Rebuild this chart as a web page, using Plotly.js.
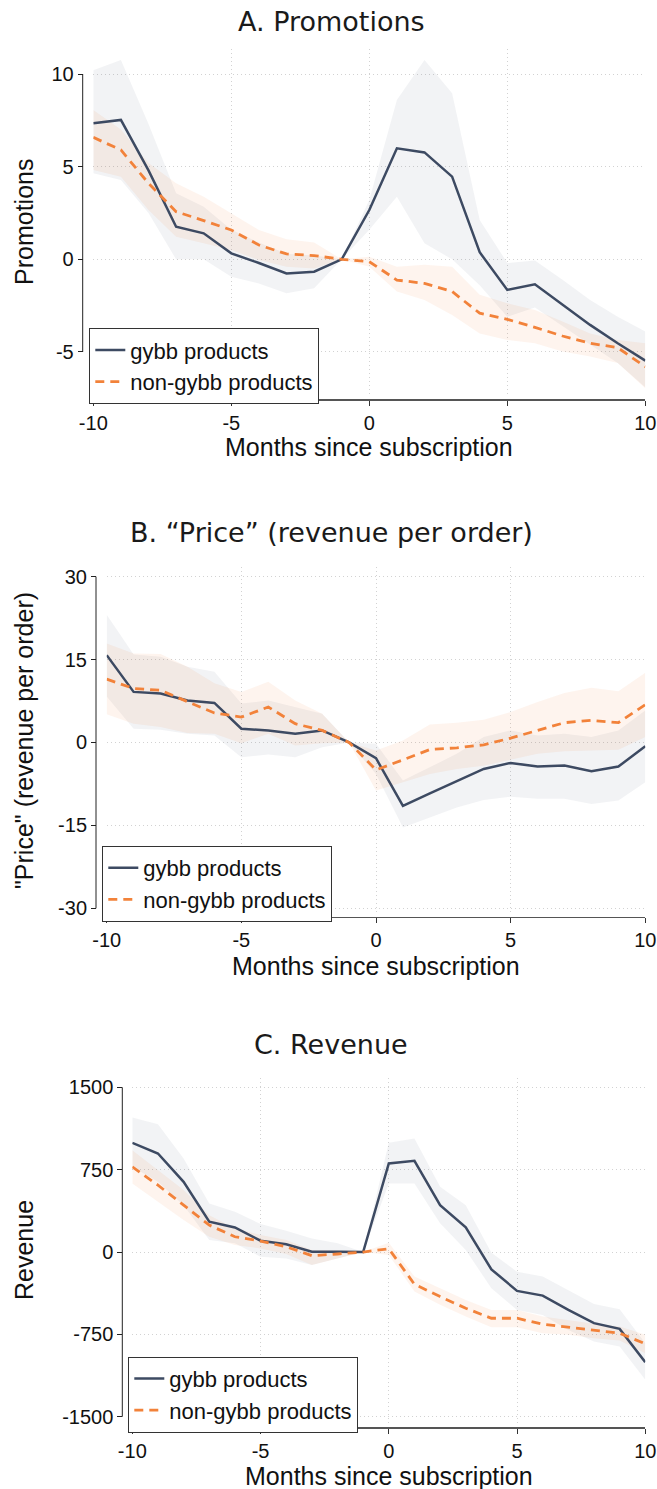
<!DOCTYPE html>
<html>
<head>
<meta charset="utf-8">
<script src="https://cdn.plot.ly/plotly-3.0.1.min.js"></script>
<style>html,body{margin:0;padding:0;background:#fff;}#chart{width:657px;height:1489px;}</style>
</head>
<body>
<div id="chart"></div>
<script>
// ---------- DATA ----------
const months = [-10, -9, -8, -7, -6, -5, -4, -3, -2, -1, 0, 1, 2, 3, 4, 5, 6, 7, 8, 9, 10];
const xTickVals = [-10, -5, 0, 5, 10];
const xTickText = ["-10", "-5", "0", "5", "10"];

const seriesNames = ["gybb products", "non-gybb products"];
const panelTitles = ["A. Promotions", "B. \u201cPrice\u201d (revenue per order)", "C. Revenue"];
const yTitles = ["Promotions", "\"Price\" (revenue per order)", "Revenue"];
const xTitle = "Months since subscription";

// Panel A: Promotions
const promoTickVals = [-5, 0, 5, 10];
const promoTickText = ["-5", "0", "5", "10"];
const promoGybb   = [7.34, 7.52, 4.8, 1.76, 1.40, 0.32, -0.2, -0.76, -0.67, 0, 2.66, 5.99, 5.77, 4.46, 0.38, -1.65, -1.35, -2.46, -3.54, -4.53, -5.47];
const promoGybbHi = [10.2, 10.75, 7.3, 3.56, 2.84, 1.6, 0.9, 0.3, 0.2, 0, 3.2, 8.6, 10.75, 8.96, 2.12, -0.2, -0.07, -1.1, -2.2, -3.1, -3.9];
const promoGybbLo = [4.64, 4.28, 2.5, 0.0, 0.0, -0.94, -1.3, -1.83, -1.56, 0, 1.6, 3.38, 0.86, 0.0, -1.4, -3.1, -2.6, -3.6, -4.6, -5.6, -6.9];
const promoNon    = [6.58, 5.9, 4.1, 2.57, 2.09, 1.58, 0.77, 0.29, 0.2, 0, -0.13, -1.12, -1.3, -1.74, -2.91, -3.24, -3.67, -4.14, -4.53, -4.77, -5.8];
const promoNonHi  = [8.06, 7.0, 5.2, 4.1, 3.38, 2.48, 1.58, 1.08, 0.9, 0, 0.14, -0.4, -0.3, -0.4, -1.92, -2.37, -2.73, -3.36, -4.0, -4.35, -4.53];
const promoNonLo  = [4.82, 4.46, 2.66, 1.22, 0.86, 0.5, -0.04, -0.4, -0.49, 0, -0.4, -1.74, -2.19, -3.0, -4.0, -4.35, -4.53, -4.98, -5.25, -5.6, -6.96];

// Panel B: "Price"
const priceTickVals = [-30, -15, 0, 15, 30];
const priceTickText = ["-30", "-15", "0", "15", "30"];
const priceGybb   = [15.8, 9.15, 8.85, 7.6, 7.15, 2.48, 2.18, 1.58, 2.18, 0, -2.85, -11.45, -9.2, -7.0, -4.79, -3.7, -4.36, -4.18, -5.2, -4.36, -0.67];
const priceGybbHi = [23.1, 15.9, 15.5, 13.7, 12.8, 7.03, 7.6, 6.42, 5.2, 0, -0.24, -6.9, -4.5, -2.06, 0.97, 2.18, 1.27, 1.58, 0.97, 2.18, 5.8];
const priceGybbLo = [8.3, 2.48, 2.3, 1.58, 1.27, -2.67, -2.18, -2.67, -0.85, 0, -5.7, -15.4, -13.6, -11.76, -10.4, -9.8, -10.2, -10.2, -11.15, -10.5, -7.2];
const priceNon    = [11.45, 9.76, 9.45, 7.33, 5.33, 4.6, 6.42, 3.39, 2.18, 0, -4.97, -3.15, -1.27, -0.97, -0.42, 0.79, 2.18, 3.58, 4.0, 3.58, 6.85];
const priceNonHi  = [17.9, 16.1, 16.0, 13.7, 10.7, 9.15, 10.97, 7.6, 5.2, 0, -1.45, 0.36, 3.27, 3.58, 4.12, 5.5, 7.33, 8.97, 9.88, 9.27, 12.6];
const priceNonLo  = [5.1, 3.39, 2.79, 1.7, 1.58, -0.12, 1.58, -0.55, -0.12, 0, -8.7, -7.2, -5.7, -4.8, -4.2, -3.15, -2.06, -1.58, -1.45, -1.33, 0.97];

// Panel C: Revenue
const revTickVals = [-1500, -750, 0, 750, 1500];
const revTickText = ["-1500", "-750", "0", "750", "1500"];
const revGybb   = [994, 897, 639, 276, 224, 103, 70, 3, 3, 0, 806, 830, 427, 224, -158, -354, -397, -527, -648, -700, -1003];
const revGybbHi = [1224, 1164, 852, 442, 367, 255, 194, 124, 79, 0, 994, 1033, 594, 427, -6, -179, -224, -345, -473, -521, -830];
const revGybbLo = [776, 639, 427, 109, 79, -42, -58, -118, -58, 0, 624, 624, 261, 18, -330, -527, -573, -709, -815, -860, -1163];
const revNon    = [776, 609, 427, 245, 139, 100, 48, -33, -18, 0, 30, -294, -406, -512, -603, -603, -658, -685, -718, -739, -836];
const revNonHi  = [927, 745, 564, 336, 215, 155, 109, 18, 18, 0, 85, -224, -330, -436, -527, -527, -588, -624, -654, -679, -754];
const revNonLo  = [624, 458, 291, 139, 64, 33, -18, -118, -58, 0, -27, -360, -481, -588, -685, -685, -739, -754, -785, -806, -921];

// ---------- LAYOUT / STYLE ----------
const W = 657, H = 1489;
const px = v => v / W;
const py = v => 1 - v / H;

const C_GYBB = "#3d4a62";
const C_NON = "#f2823a";
const BAND_GYBB = "rgba(61,74,98,0.065)";
const BAND_NON = "rgba(242,130,58,0.085)";
const GRID = {showgrid: true, gridcolor: "#d2d2d2", griddash: "1px,3px", gridwidth: 1};
const TICKFONT = {family: "Liberation Sans, Arial, sans-serif", size: 20, color: "#111"};
const TITLEFONT = {family: "Liberation Sans, Arial, sans-serif", size: 25, color: "#111"};
const HEADFONT = {family: "DejaVu Sans, sans-serif", size: 27, color: "#1a1a1a"};

const panels = [
  {sfx: "", data: [promoGybb, promoGybbHi, promoGybbLo, promoNon, promoNonHi, promoNonLo],
   tv: promoTickVals, tt: promoTickText,
   xd: [93.3, 645.3], yd: [49, 394], yr: [-7.27, 11.35], yAxisX: 82.7, xAxisY: 399,
   head: 22, xtitleY: 447, ytitleY: 222, leg: [89.3, 328.3]},
  {sfx: "2", data: [priceGybb, priceGybbHi, priceGybbLo, priceNon, priceNonHi, priceNonLo],
   tv: priceTickVals, tt: priceTickText,
   xd: [106.7, 645.3], yd: [566.7, 912], yr: [-30.67, 31.8], yAxisX: 96, xAxisY: 916.7,
   head: 532, xtitleY: 966, ytitleY: 741, leg: [102.3, 846]},
  {sfx: "3", data: [revGybb, revGybbHi, revGybbLo, revNon, revNonHi, revNonLo],
   tv: revTickVals, tt: revTickText,
   xd: [132.3, 645.3], yd: [1078.3, 1423], yr: [-1557, 1582], yAxisX: 122.3, xAxisY: 1427.3,
   head: 1044, xtitleY: 1476, ytitleY: 1250, leg: [128.3, 1356.7]}
];

const traces = [];
const layout = {
  width: W, height: H,
  margin: {l: 0, r: 0, t: 0, b: 0},
  paper_bgcolor: "#fff", plot_bgcolor: "#fff",
  showlegend: true,
  shapes: [], annotations: []
};

function band(xs, hi, lo, color, sfx) {
  return {x: xs.concat(xs.slice().reverse()), y: hi.concat(lo.slice().reverse()),
    xaxis: "x" + sfx, yaxis: "y" + sfx, type: "scatter", mode: "lines",
    fill: "toself", fillcolor: color, line: {width: 0, color: color},
    hoverinfo: "skip", showlegend: false};
}

panels.forEach((p, i) => {
  const [g, gh, gl, n, nh, nl] = p.data;
  const xa = "x" + p.sfx, ya = "y" + p.sfx, lg = "legend" + p.sfx;
  traces.push(band(months, gh, gl, BAND_GYBB, p.sfx));
  traces.push(band(months, nh, nl, BAND_NON, p.sfx));
  traces.push({x: months, y: g, xaxis: xa, yaxis: ya, type: "scatter", mode: "lines",
    name: seriesNames[0], legend: lg, line: {color: C_GYBB, width: 2.5}});
  traces.push({x: months, y: n, xaxis: xa, yaxis: ya, type: "scatter", mode: "lines",
    name: seriesNames[1], legend: lg, line: {color: C_NON, width: 2.8, dash: "9px,6px"}});

  layout["xaxis" + p.sfx] = Object.assign({
    domain: [px(p.xd[0]), px(p.xd[1])], range: [-10, 10], anchor: "free", position: py(p.xAxisY),
    tickmode: "array", tickvals: xTickVals, ticktext: xTickText,
    ticks: "outside", ticklen: 5, tickcolor: "#333", tickwidth: 1,
    showline: true, linecolor: "#555", linewidth: 1.5,
    zeroline: false, tickfont: TICKFONT, fixedrange: true
  }, GRID);
  layout["yaxis" + p.sfx] = Object.assign({
    domain: [py(p.yd[1]), py(p.yd[0])], range: p.yr, anchor: "free", position: px(p.yAxisX),
    tickmode: "array", tickvals: p.tv, ticktext: p.tt,
    ticks: "outside", ticklen: 5, tickcolor: "#222", tickwidth: 1,
    showline: false,
    zeroline: false, tickfont: TICKFONT, fixedrange: true
  }, GRID);
  layout.shapes.push({type: "line", xref: "paper", yref: ya,
    x0: px(p.yAxisX), x1: px(p.yAxisX), y0: p.tv[0], y1: p.tv[p.tv.length - 1],
    line: {color: "#222", width: 1}});

  layout[lg] = {
    x: px(p.leg[0]), y: py(p.leg[1]), xanchor: "left", yanchor: "top",
    bgcolor: "#fff", bordercolor: "#333", borderwidth: 1,
    font: {family: "Liberation Sans, Arial, sans-serif", size: 22, color: "#111"},
    tracegroupgap: 0, itemwidth: 30
  };

  layout.annotations.push({text: panelTitles[i], xref: "paper", yref: "paper",
    x: px(331), y: py(p.head), xanchor: "center", yanchor: "middle", showarrow: false, font: HEADFONT});
  layout.annotations.push({text: xTitle, xref: "paper", yref: "paper",
    x: px((p.xd[0] + p.xd[1]) / 2), y: py(p.xtitleY), xanchor: "center", yanchor: "middle",
    showarrow: false, font: TITLEFONT});
  layout.annotations.push({text: yTitles[i], xref: "paper", yref: "paper", textangle: -90,
    x: px(24), y: py(p.ytitleY), xanchor: "center", yanchor: "middle",
    showarrow: false, font: TITLEFONT});
});

Plotly.newPlot("chart", traces, layout, {staticPlot: true, displayModeBar: false});
</script>
</body>
</html>
